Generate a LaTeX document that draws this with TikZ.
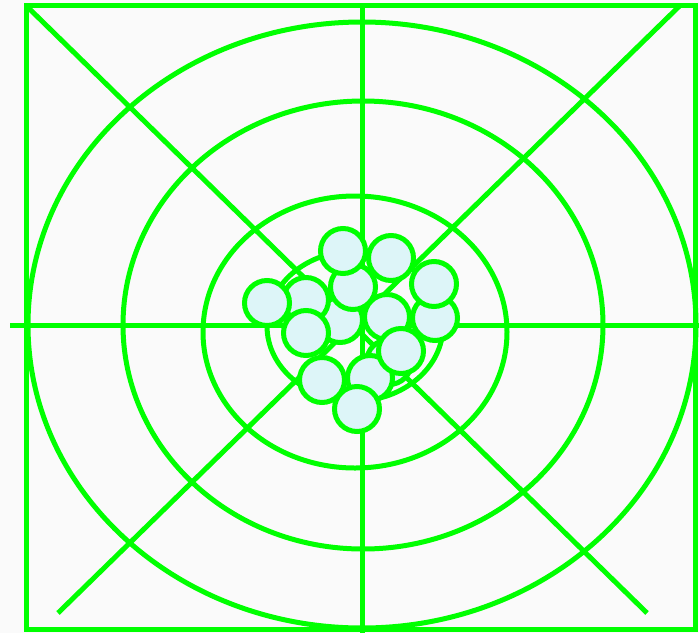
\documentclass[tikz,border=0pt]{standalone}
\begin{document}
\begin{tikzpicture}[x=1pt,y=-1pt,
  gline/.style={draw=green!100, line width=5pt},
  ball/.style={circle, draw=green, line width=5pt, fill=ballfill, minimum size=45pt, inner sep=0pt}]
\definecolor{green}{RGB}{0,255,0}
\definecolor{ballfill}{RGB}{221,245,248}
\useasboundingbox (0,0) rectangle (699,633);
\fill[gray!4] (0,0) rectangle (699,633);
% frame and axes
\draw[gline] (26,5.5) rectangle (695.5,629.5);
\coordinate (d1a) at (26,5.5);
\coordinate (d1b) at (647,613);
\coordinate (d2a) at (680,5.5);
\coordinate (d2b) at (58,613);
\coordinate (ha) at (10,325);
\coordinate (hb) at (699,325);
\coordinate (va) at (362,5.5);
\coordinate (vb) at (362,633);
\draw[gline] (d1a) -- (d1b);
\draw[gline] (d2a) -- (d2b);
\draw[gline] (ha) -- (hb);
\draw[gline] (va) -- (vb);
% ellipses
\draw[gline] (362,325) ellipse [x radius=334, y radius=303];
\draw[gline] (363,325) ellipse [x radius=240, y radius=224];
\draw[gline] (355,332) ellipse [x radius=152, y radius=136];
\draw[gline] (355,326) ellipse [x radius=88, y radius=75];
% balls
\node[ball] (b7) at (340,320) {};
\node[ball] (b4) at (353,287) {};
\node[ball] (b2) at (391,258) {};
\node[ball] (b1) at (343,251) {};
\node[ball] (b5) at (306,300) {};
\node[ball] (b6) at (267,303) {};
\node[ball] (b10) at (306,333) {};
\node[ball] (b9) at (435,318) {};
\node[ball] (b3) at (434,284) {};
\node[ball] (b8) at (387,317) {};
\node[ball] (b12) at (389,362) {};
\node[ball] (b14) at (370,378) {};
\node[ball] (b11) at (401,351) {};
\node[ball] (b13) at (322,380) {};
\node[ball] (b15) at (357,409) {};
\end{tikzpicture}
\end{document}
